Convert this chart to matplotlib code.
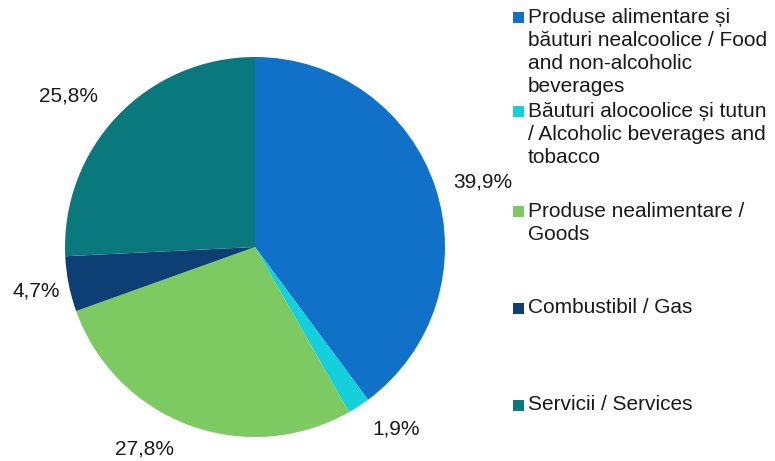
import matplotlib.pyplot as plt
from matplotlib.patches import Rectangle

plt.rcParams['font.family'] = ['Liberation Sans', 'DejaVu Sans']

# data
categories = [
    "Produse alimentare și\nbăuturi nealcoolice / Food\nand non-alcoholic\nbeverages",
    "Băuturi alocoolice și tutun\n/ Alcoholic beverages and\ntobacco",
    "Produse nealimentare /\nGoods",
    "Combustibil / Gas",
    "Servicii / Services",
]
values = [39.9, 1.9, 27.8, 4.7, 25.8]
colors = ['#1170C8', '#13D0DC', '#7DC962', '#0E3F74', '#0A797E']

fig = plt.figure(figsize=(7.75, 4.61), dpi=100)
W, H = 775, 461

# pie area: centre (255, 247), radius 190 px
cx, cy, r = 255, 247, 190
ax = fig.add_axes([(cx - r) / W, (H - cy - r) / H, 2 * r / W, 2 * r / H])

labels = [f"{v:.1f}%".replace('.', ',') for v in values]
wedges, texts = ax.pie(values, colors=colors, startangle=90, counterclock=False,
                       labels=labels, labeldistance=1.08,
                       textprops={'fontsize': 15, 'color': '#1a1a1a'},
                       wedgeprops={'linewidth': 0})
ax.set_xlim(-1, 1)
ax.set_ylim(-1, 1)
ax.set_aspect('equal')

# small nudges (pixels: right, down) so labels sit like the original
nudges = [(3, -1), (5, 10), (-10, 10), (6, 4), (-8, -9)]
for t, (dx, dy) in zip(texts, nudges):
    x, y = t.get_position()
    t.set_position((x + dx / r, y - dy / r))

# legend drawn by hand to mimic the uneven spacing
legend_y = [18, 112, 212, 308, 405]
for lab, col, y in zip(categories, colors, legend_y):
    fig.patches.append(Rectangle(((513) / W, (H - y - 5.5) / H), 11 / W, 11 / H,
                                 transform=fig.transFigure, facecolor=col,
                                 edgecolor='none'))
    fig.text(528 / W, (H - y + 10) / H, lab, fontsize=15, color='#1a1a1a',
             ha='left', va='top', linespacing=1.27)

fig.savefig('out.png', dpi=100)
